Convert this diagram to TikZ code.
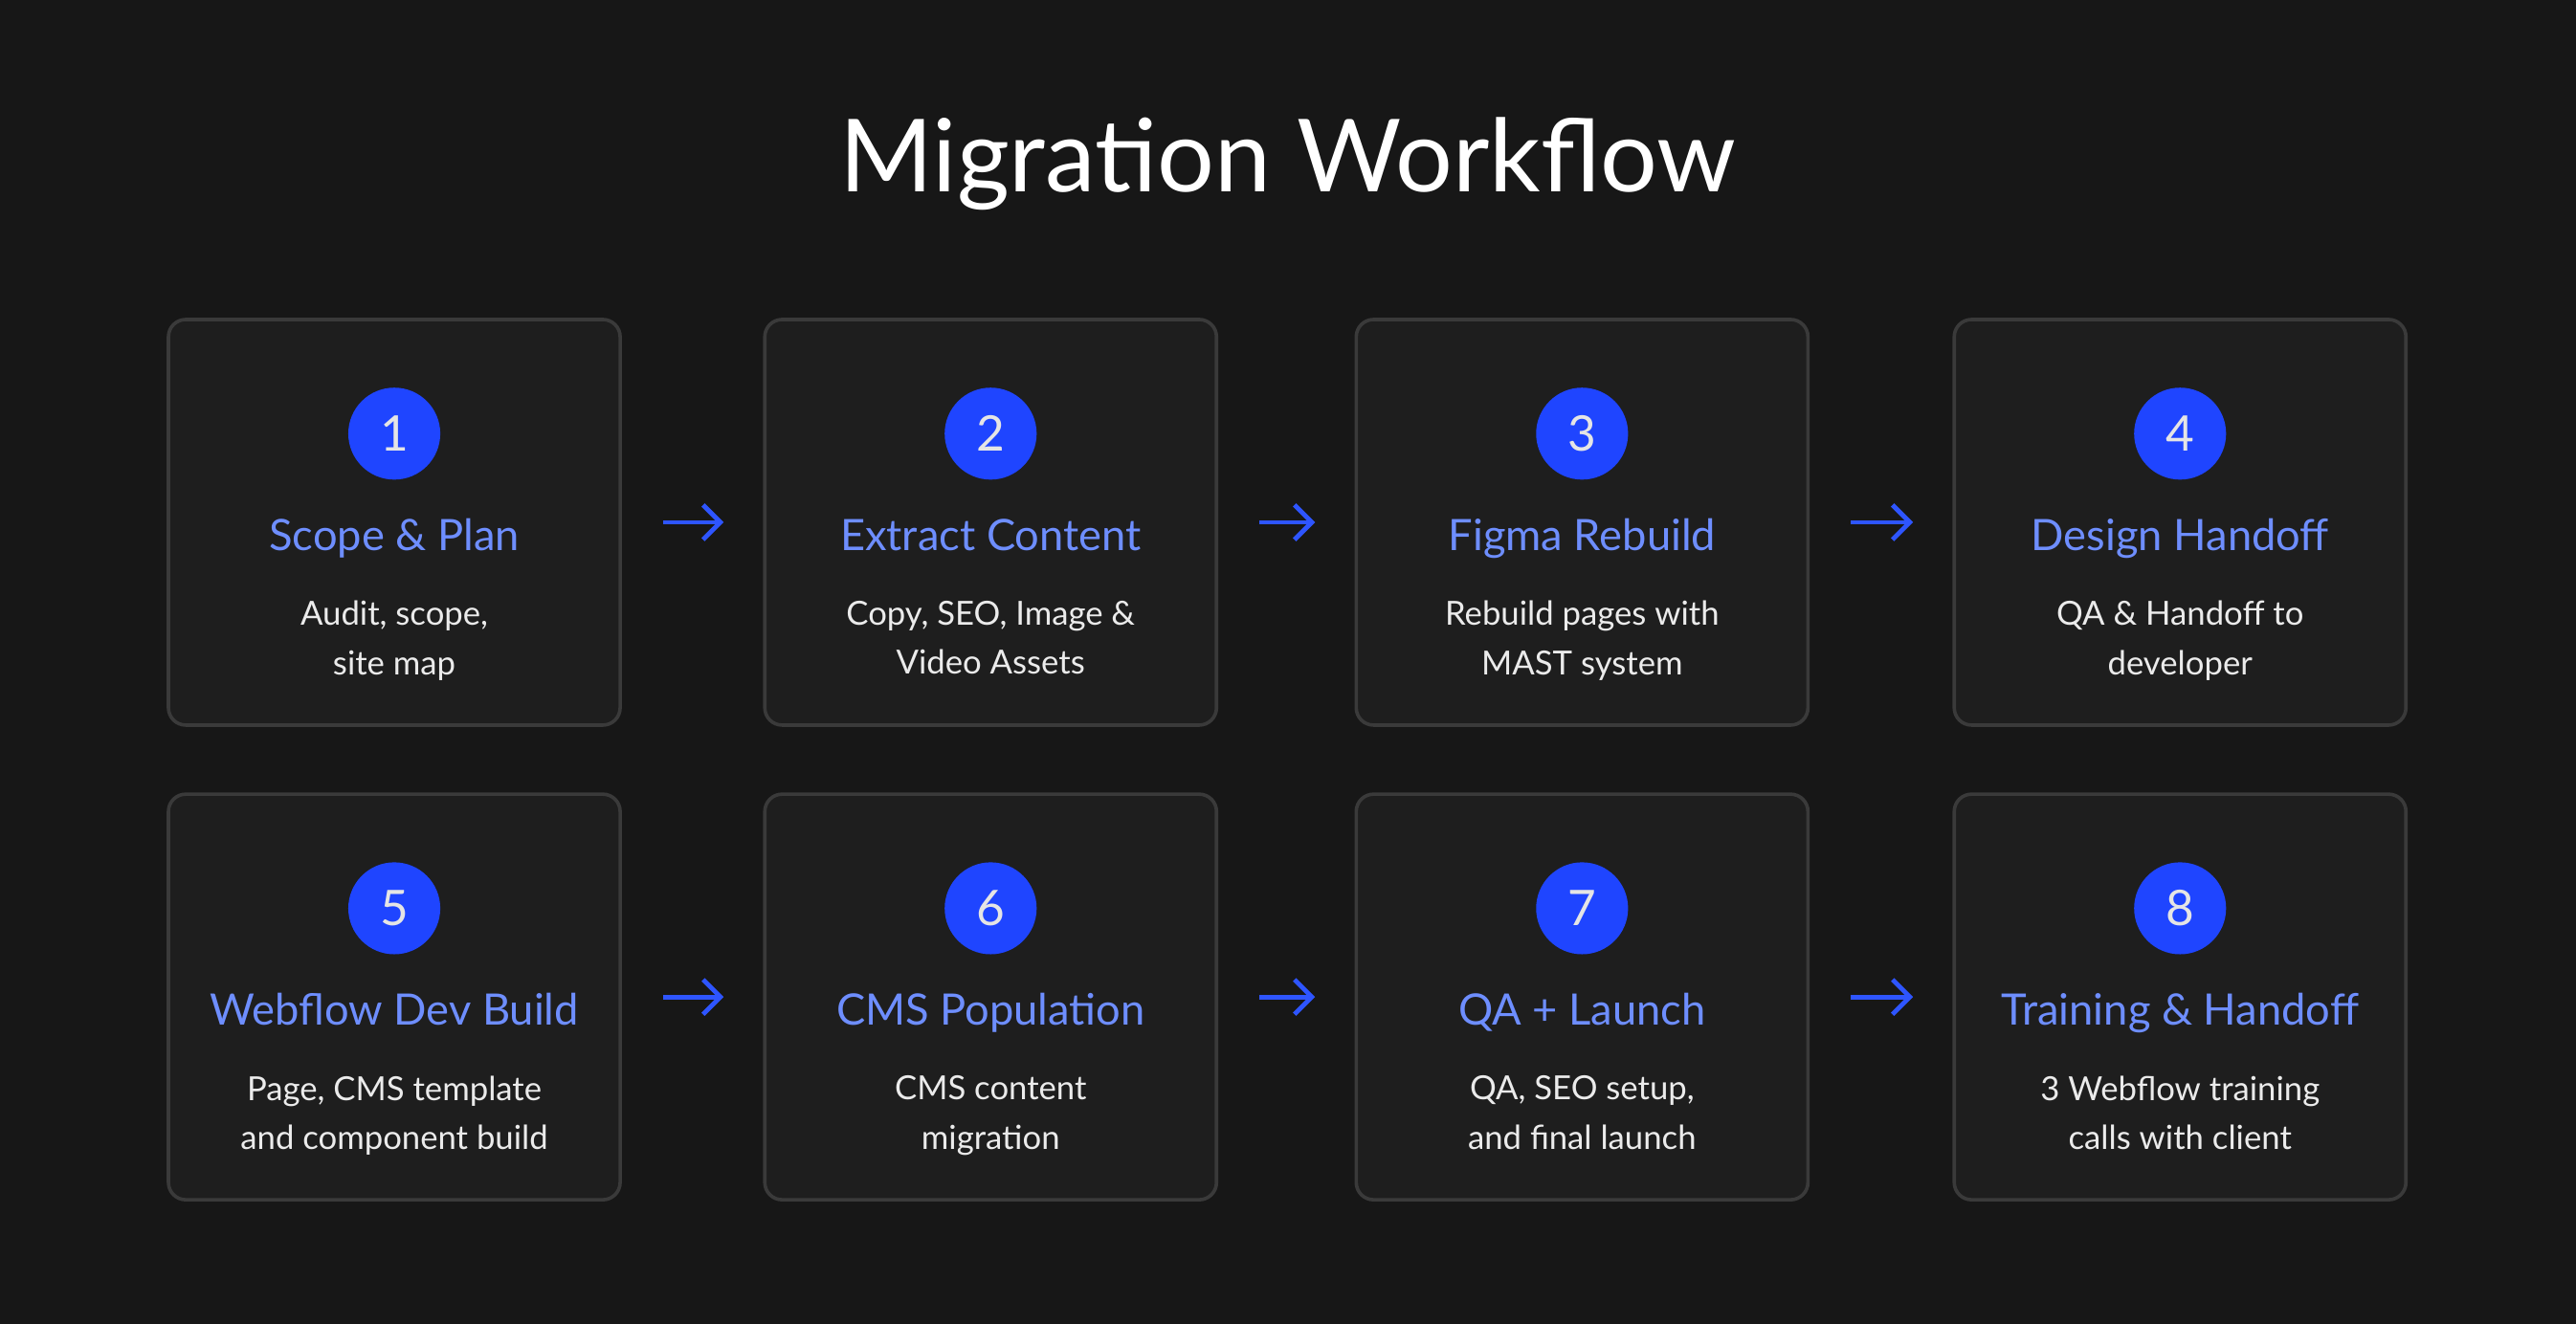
\documentclass[tikz,border=0pt]{standalone}
\usepackage{fontspec}
\setmainfont{Lato}
\usetikzlibrary{arrows.meta}

\definecolor{bgcol}{HTML}{171717}
\definecolor{cardcol}{HTML}{1E1E1E}
\definecolor{cardedge}{HTML}{3A3A3A}
\definecolor{numblue}{HTML}{1F45FF}
\definecolor{headblue}{HTML}{6E8EFF}
\definecolor{arrowblue}{HTML}{2E55FF}

\tikzset{
    card/.style={draw=cardedge, line width=1.2pt, fill=cardcol, rounded corners=6pt,
        minimum width=5.5cm, minimum height=4.94cm},
    numdot/.style={circle, fill=numblue, minimum size=1.12cm, inner sep=0pt,
        text=white!90!black, font=\fontsize{17}{17}\selectfont},
    cardhead/.style={text=headblue, text height=11pt, text depth=3pt,
        font=\fontsize{15}{16}\selectfont},
    cardbody/.style={text=white!92!black, align=center, text depth=3pt,
        font=\fontsize{11.5}{17}\selectfont},
    flow/.style={arrowblue, line width=1.6pt, -{Straight Barb[length=6pt,width=12pt]}}
}

\begin{document}
\begin{tikzpicture}[x=0.02cm,y=-0.02cm]
    \fill[bgcol] (0,0) rectangle (1568,806);
    \useasboundingbox (0,0) rectangle (1568,806);
    \node[white, font=\fontsize{35}{35}\selectfont] (title) at (784,100) {Migration Workflow};
    % row 1
    \node[card] (c1) at (240,318) {};
    \node[card] (c2) at (603,318) {};
    \node[card] (c3) at (963,318) {};
    \node[card] (c4) at (1327,318) {};
    % row 2
    \node[card] (c5) at (240,607) {};
    \node[card] (c6) at (603,607) {};
    \node[card] (c7) at (963,607) {};
    \node[card] (c8) at (1327,607) {};
    \foreach \i/\head/\bodyA/\bodyB in {
        1/Scope \& Plan/{Audit, scope,}/{site map},
        2/Extract Content/{Copy, SEO, Image \&}/{Video Assets},
        3/Figma Rebuild/{Rebuild pages with}/{MAST system},
        4/Design Handoff/{QA \& Handoff to}/{developer},
        5/Webflow Dev Build/{Page, CMS template}/{and component build},
        6/CMS Population/{CMS content}/{migration},
        7/QA + Launch/{QA, SEO setup,}/{and final launch},
        8/Training \& Handoff/{3 Webflow training}/{calls with client}} {
        \node[numdot] (n\i) at ([yshift=1.08cm]c\i.center) {\i};
        \node[cardhead] (h\i) at ([yshift=-0.2cm]c\i.center) {\head};
        \node[cardbody] (b\i) at ([yshift=-1.46cm]c\i.center) {\bodyA\\\bodyB};
    }
    \foreach \a/\b in {1/2,2/3,3/4,5/6,6/7,7/8} {
        \coordinate (s\a) at ([xshift=0.5cm]c\a.east);
        \coordinate (e\a) at ([xshift=-0.48cm]c\b.west);
        \draw[flow] (s\a) -- (e\a);
    }
\end{tikzpicture}
\end{document}
